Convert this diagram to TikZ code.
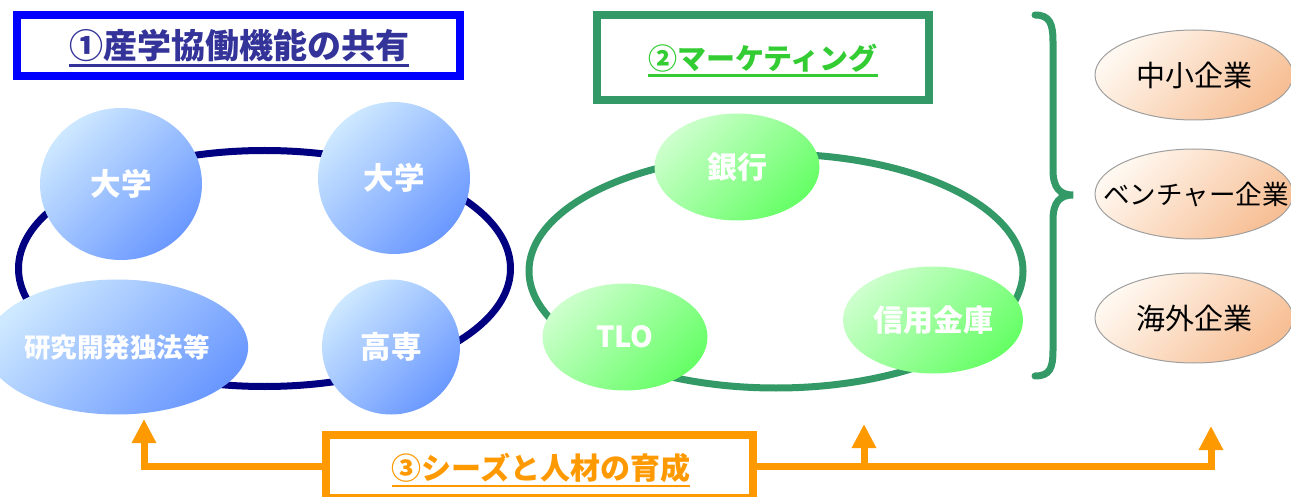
\documentclass[tikz,border=0pt]{standalone}
\usepackage{fontspec}
\newfontfamily\jp{Noto Sans CJK JP}
\usetikzlibrary{shapes.geometric,arrows.meta}
\definecolor{navyline}{HTML}{000080}
\definecolor{titleblue}{HTML}{333399}
\definecolor{boxblue}{HTML}{0000FF}
\definecolor{mkgreen}{HTML}{339966}
\definecolor{txtgreen}{HTML}{33CC33}
\definecolor{orng}{HTML}{FF9900}
\definecolor{bluelight}{HTML}{CDE8FF}
\definecolor{bluedark}{HTML}{6A98FF}
\definecolor{greenlight}{HTML}{CCFFCC}
\definecolor{greendark}{HTML}{66FF66}
\definecolor{peachlight}{HTML}{FFF8F0}
\definecolor{peachdark}{HTML}{F7BF95}
\tikzset{
  blueball/.style={ellipse, inner sep=0pt, top color=bluelight, bottom color=bluedark, shading angle=45,
    text=white, font=\jp\bfseries\fontsize{30.5}{36}\selectfont},
  greenball/.style={ellipse, inner sep=0pt, top color=greenlight, bottom color=greendark, shading angle=45,
    text=white, font=\jp\bfseries\fontsize{30}{36}\selectfont},
  peachball/.style={ellipse, inner sep=0pt, draw=gray!75, line width=1pt, top color=peachlight, bottom color=peachdark, shading angle=45,
    text=black, font=\jp\fontsize{29}{34}\selectfont, minimum width=198pt, minimum height=90pt},
  titlebox/.style={rectangle, line width=8pt, inner sep=0pt},
  titletext/.style={inner sep=0pt, font=\jp\bfseries\fontsize{30}{36}\selectfont},
  ring/.style={ellipse, line width=7pt, inner sep=0pt},
  arr/.style={orng, line width=7pt, -{Triangle[width=23pt,length=24pt]}},
}
\begin{document}
\begin{tikzpicture}[x=1pt,y=-1pt]
\useasboundingbox (0,0) rectangle (1291,497);
% rings
\node[ring, draw=navyline, minimum width=492pt, minimum height=236pt] (ring1) at (264.5,268.5) {};
\node[ring, draw=mkgreen, minimum width=494pt, minimum height=234pt] (ring2) at (776,271) {};
% blue balls
\node[blueball, minimum width=162pt, minimum height=152pt] (u1) at (121,184) {大学};
\node[blueball, minimum width=152pt, minimum height=152pt] (u2) at (394,178) {大学};
\node[blueball, minimum width=199pt, minimum height=135pt, font=\jp\bfseries\fontsize{26.5}{30}\selectfont] (rd) at (117,347) {研究開発独法等};
\node[blueball, minimum width=138pt, minimum height=135pt] (ks) at (391,347) {高専};
% green balls
\node[greenball, minimum width=165pt, minimum height=107pt] (bank) at (737,167) {銀行};
\node[greenball, minimum width=165pt, minimum height=107pt, font=\jp\bfseries\fontsize{29}{34}\selectfont] (tlo) at (625,337) {TLO};
\node[greenball, minimum width=180pt, minimum height=107pt] (shk) at (933,320) {信用金庫};
% brace
\draw[mkgreen, line width=7pt, line cap=round]
  (1035,15) .. controls (1050,15) and (1053,24) .. (1053,42) -- (1053,170)
  .. controls (1053,188) and (1060,195) .. (1073,195)
  .. controls (1060,195) and (1053,202) .. (1053,220) -- (1053,350)
  .. controls (1053,368) and (1050,376) .. (1035,376);
% peach ellipses
\node[peachball] (sme) at (1194,75) {中小企業};
\node[peachball] (vent) at (1194,194) {};
\node[text=black, font=\jp\fontsize{26.5}{32}\selectfont, inner sep=0pt] (ventt) at (1196,195) {ベンチャー企業};
\node[peachball] (ovs) at (1194,318) {海外企業};
% title boxes
\node[titlebox, draw=boxblue, minimum width=443pt, minimum height=61pt] (box1) at (238.5,45.5) {};
\node[titletext, text=titleblue, font=\jp\bfseries\fontsize{34}{40}\selectfont] (t1) at (239,46) {①産学協働機能の共有};
\draw[titleblue, line width=2.5pt] ([yshift=-3pt]t1.south west) -- ([yshift=-3pt]t1.south east);
\node[titlebox, draw=mkgreen, minimum width=332pt, minimum height=85pt] (box2) at (763,57.5) {};
\node[titletext, text=txtgreen, font=\jp\bfseries\fontsize{29}{34}\selectfont] (t2) at (763,58) {②マーケティング};
\draw[txtgreen, line width=2.5pt] ([yshift=-3pt]t2.south west) -- ([yshift=-3pt]t2.south east);
% bottom
\coordinate (tipL) at (144,419);
\coordinate (tipM) at (864,424);
\coordinate (tipR) at (1211,426);
\node[titlebox, draw=orng, fill=white, minimum width=427pt, minimum height=63pt] (box3) at (539.5,466.5) {};
\node[titletext, text=orng, font=\jp\bfseries\fontsize{30}{36}\selectfont] (t3) at (541,468) {③シーズと人材の育成};
\draw[orng, line width=2.5pt] ([yshift=-3pt]t3.south west) -- ([yshift=-3pt]t3.south east);
\draw[arr] (box3.west) -| (tipL);
\draw[arr] (box3.east) -| (tipR);
\draw[arr] (box3.east -| tipM) -- (tipM);
\end{tikzpicture}
\end{document}
